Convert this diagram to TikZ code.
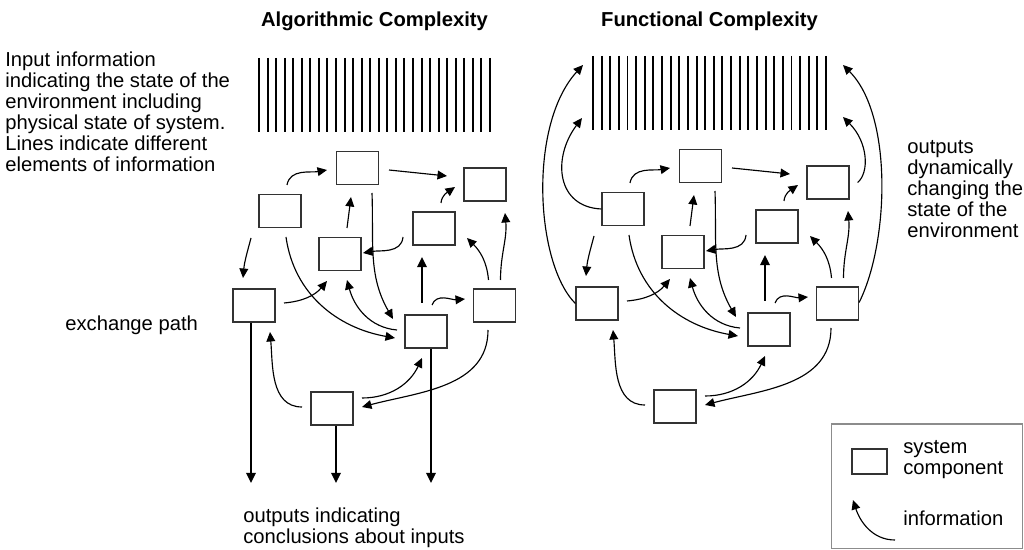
\documentclass[tikz,border=0pt]{standalone}
\usepackage{fontspec}
\setmainfont{Liberation Sans}
\usetikzlibrary{arrows.meta,calc}
\begin{document}
\begin{tikzpicture}[x=0.02cm,y=-0.02cm,
  every node/.style={font=\fontsize{11.5}{11.95}\selectfont},
  comp/.style={draw=black!80,line width=0.7pt,minimum width=0.84cm,minimum height=0.66cm,inner sep=0pt},
  flow/.style={line width=0.65pt,-{Triangle[length=5.4pt,width=5pt]}},
  strongflow/.style={line width=1.1pt,-{Triangle[length=5.8pt,width=5.4pt]}},
  bar/.style={line width=1.1pt},
  txt/.style={align=left,inner sep=0pt,anchor=west},
  heading/.style={inner sep=0pt,font=\bfseries\fontsize{11.5}{12}\selectfont}
]
\useasboundingbox (0,0) rectangle (1024,550);

% headings
\node[heading] (t1) at (374.5,21) {Algorithmic Complexity};
\node[heading] (t2) at (709.5,21) {Functional Complexity};

% input lines (elements of information)
\foreach \i in {0,...,27}{
  \draw[bar] ({259+\i*8.5556},58) -- ++(0,74);
  \draw[bar] ({593+\i*8.63},56) -- ++(0,74);
}
\coordinate (RbarsNW) at (593,56);
\coordinate (RbarsNE) at (826,56);

% the two component networks
\foreach \p/\sx/\sy in {L/0/0,R/343/-2}{
  \node[comp] (\p A) at ({357.5+\sx},{168+\sy}) {};
  \node[comp] (\p B) at ({485+\sx},{184.5+\sy}) {};
  \node[comp] (\p C) at ({280+\sx},{211+\sy}) {};
  \node[comp] (\p D) at ({434+\sx},{228.5+\sy}) {};
  \node[comp] (\p E) at ({340+\sx},{254+\sy}) {};
  \node[comp] (\p F) at ({254+\sx},{305.5+\sy}) {};
  \node[comp] (\p G) at ({494.5+\sx},{305.5+\sy}) {};
  \node[comp] (\p H) at ({426+\sx},{331.5+\sy}) {};
  \node[comp] (\p I) at ({332+\sx},{408.5+\sy}) {};

  \draw[flow] ($(\p C)+(7,-26)$) to[out=80,in=190] ($(\p A)+(-30.5,2)$);
  \draw[flow] ($(\p A)+(31.5,2)$) -- ($(\p B)+(-38,-8.5)$);
  \draw[flow] ($(\p D)+(7,-25.5)$) to[out=85,in=215] ($(\p B)+(-30,2.5)$);
  \draw[flow] ($(\p E)+(7,-26)$) -- ($(\p A)+(-6.5,29)$);
  \draw[flow] ($(\p D)+(-31,8.5)$) to[out=-95,in=10] ($(\p E)+(23,-1)$);
  \draw[flow] ($(\p A)+(14.5,25)$) to[out=-88,in=120] ($(\p H)+(-33,-12.5)$);
  \draw[flow] ($(\p C)+(6,26)$) to[out=-82,in=170] ($(\p H)+(-31,6.5)$);
  \draw[flow] ($(\p C)+(-29,27)$) to[out=-105,in=85] ($(\p F)+(-11,-27.5)$);
  \draw[flow] ($(\p F)+(30,-2.5)$) to[out=5,in=-130] ($(\p E)+(-13,27)$);
  \draw[flow] ($(\p H)+(-29,-1.5)$) to[out=175,in=-75] ($(\p E)+(7,26)$);
  \draw[strongflow] ($(\p H)+(-4,-28.5)$) -- ($(\p D)+(-12,28.5)$);
  \draw[flow] ($(\p H)+(6,-26.5)$) to[out=70,in=185] ($(\p G)+(-29.5,-6.5)$);
  \draw[flow] ($(\p G)+(-6,-25.5)$) to[out=95,in=-45] ($(\p D)+(33,9.5)$);
  \draw[flow] ($(\p G)+(6,-25.5)$) to[out=90,in=-85] ($(\p B)+(20,28.5)$);
  \draw[flow] ($(\p I)+(-30,-1.5)$) to[out=180,in=-85] ($(\p F)+(16,26.5)$);
  \draw[flow] ($(\p I)+(30,-10.5)$) to[out=0,in=-115] ($(\p H)+(-4,26.5)$);
  \draw[flow] ($(\p G)+(-6.5,24.5)$) to[out=-90,in=15] ($(\p I)+(30,-1.5)$);
}

% conclusions leaving the algorithmic network
\coordinate (outF) at (251,483);
\coordinate (outI) at (336,483);
\coordinate (outH) at (431,483);
\draw[strongflow] ($(LF.south)+(-3,0)$) -- (outF);
\draw[strongflow] ($(LI.south)+(4,0)$) -- (outI);
\draw[strongflow] ($(LH.south)+(5,0)$) -- (outH);

% outputs feeding back into the environment
\draw[flow] (RF.west) .. controls +(-40,-40) and +(-55,60) .. ($(RbarsNW)+(-10,9)$);
\draw[flow] (RC.west) .. controls +(-45,-2) and +(-30,40) .. ($(RbarsNW)+(-11,62)$);
\draw[flow] ($(RG.east)+(0,-1)$) .. controls +(30,-60) and +(50,50) .. ($(RbarsNE)+(17,9)$);
\draw[flow] ($(RB.east)+(8,0)$) .. controls +(12,-10) and +(25,25) .. ($(RbarsNE)+(17,61)$);

% annotations
\node[txt] (inText) at (5,111.5) {Input information\\indicating the state of the\\environment including\\physical state of system.\\Lines indicate different\\elements of information};
\node[txt] (exText) at (65,325) {exchange path};
\node[txt] (outText) at (243,528) {outputs indicating\\conclusions about inputs};
\node[txt] (envText) at (907,189.5) {outputs\\dynamically\\changing the\\state of the\\environment};

% legend
\node[draw=black!45,line width=0.6pt,minimum width=3.82cm,minimum height=2.49cm,inner sep=0pt] (legend) at (927,486.25) {};
\node[comp,minimum width=0.7cm,minimum height=0.5cm] (legBox) at (869.5,461.5) {};
\node[txt] (legBoxText) at (903,460) {system\\component};
\coordinate (legTail) at (895,540);
\coordinate (legTip) at (853,500);
\draw[flow] (legTail) to[out=180,in=-72] (legTip);
\node[txt] (legArrowText) at (903,518) {information};
\end{tikzpicture}
\end{document}
